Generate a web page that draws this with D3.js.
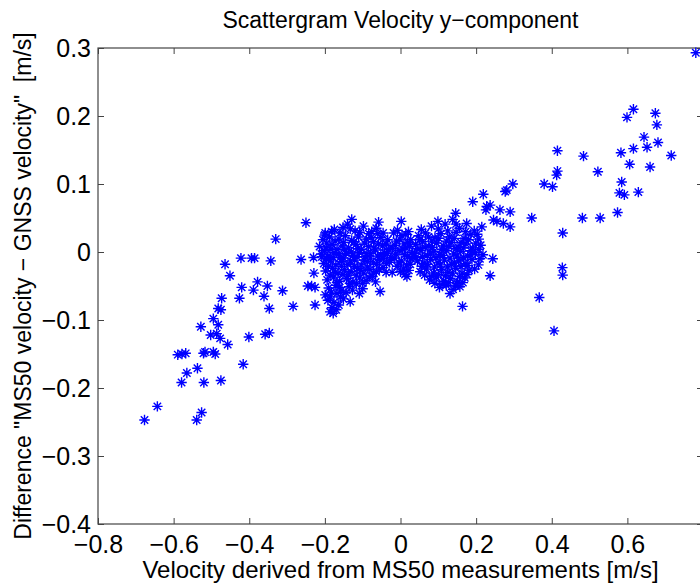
<!DOCTYPE html>
<html lang="en">
<head>
<meta charset="UTF-8">
<title>Scattergram Velocity y-component</title>
<script src="https://d3js.org/d3.v7.min.js"></script>
<style>
  body { margin: 0; background: #fff; }
  text { font-family: "Liberation Sans", Arial, Helvetica, sans-serif; fill: #000; }
  .axis path { display: none; }
  .axis line { stroke: #444; }
  .axis text { font-size: 25px; }
  .star { fill: none; stroke: #0000ff; stroke-width: 1.4; }
</style>
</head>
<body>
<script>

// tick values
var xTicks = [-0.8, -0.6, -0.4, -0.2, 0, 0.2, 0.4, 0.6];
var yTicks = [-0.4, -0.3, -0.2, -0.1, 0, 0.1, 0.2, 0.3];

// sparse points on the left side  [MS50 velocity, difference]
var leftPoints = [
  [-0.250,0.043],[-0.330,0.019],[-0.464,-0.018],[-0.422,-0.009],[-0.394,-0.009],[-0.386,-0.009],
  [-0.343,-0.013],[-0.263,-0.011],[-0.451,-0.035],[-0.378,-0.044],[-0.420,-0.052],[-0.389,-0.056],
  [-0.352,-0.050],[-0.361,-0.065],[-0.312,-0.057],[-0.245,-0.050],[-0.473,-0.068],[-0.426,-0.068],
  [-0.482,-0.083],[-0.475,-0.085],[-0.347,-0.083],[-0.284,-0.080],[-0.495,-0.098],[-0.528,-0.110],
  [-0.482,-0.107],[-0.502,-0.122],[-0.486,-0.120],[-0.477,-0.127],[-0.457,-0.136],[-0.401,-0.125],
  [-0.358,-0.121],[-0.347,-0.119],[-0.589,-0.151],[-0.578,-0.150],[-0.568,-0.149],[-0.521,-0.149],
  [-0.517,-0.147],[-0.495,-0.147],[-0.490,-0.150],[-0.537,-0.171],[-0.565,-0.178],[-0.416,-0.165],
  [-0.579,-0.192],[-0.520,-0.192],[-0.475,-0.189],[-0.643,-0.227],[-0.677,-0.247],[-0.526,-0.236],
  [-0.539,-0.247]
];

// sparse points on the right side
var rightPoints = [
  [0.781,0.293],[0.616,0.210],[0.599,0.198],[0.674,0.204],[0.678,0.187],[0.644,0.169],
  [0.652,0.154],[0.681,0.161],[0.616,0.152],[0.583,0.146],[0.716,0.142],[0.606,0.129],
  [0.660,0.125],[0.415,0.149],[0.484,0.141],[0.522,0.118],[0.415,0.119],[0.413,0.113],
  [0.585,0.103],[0.380,0.100],[0.402,0.096],[0.579,0.087],[0.592,0.084],[0.629,0.088],
  [0.347,0.050],[0.481,0.050],[0.528,0.050],[0.574,0.058],[0.429,0.028],[0.428,-0.023],
  [0.429,-0.034],[0.367,-0.067],[0.406,-0.116]
];

// points around the edge of the central cloud
var edgePoints = [
  [0.297,0.100],[0.277,0.089],[0.281,0.091],[0.219,0.085],[0.191,0.074],[0.228,0.067],
  [0.237,0.069],[0.226,0.062],[0.263,0.062],[0.290,0.059],[0.255,0.045],[0.272,0.042],
  [0.290,0.037],[0.246,0.047],[0.215,0.037],[0.175,0.042],[0.146,0.057],[0.099,0.045],
  [0.244,-0.010],[0.237,-0.035],[0.164,-0.080],[0.149,-0.046],[0.017,-0.036],
  [-0.129,0.048],[-0.058,0.044],[0.002,0.045],[-0.199,0.028],[-0.230,-0.008],[-0.208,-0.007],
  [-0.229,-0.031],[-0.235,-0.050],[-0.226,-0.052],[-0.226,-0.078],[-0.199,-0.063],
  [-0.186,-0.088],[-0.133,-0.073],[-0.054,-0.058]
];

// dense cloud, negative velocities
var cloudLeft = [
  [-0.175,0.033],[-0.152,0.036],[-0.120,0.031],[-0.098,0.038],[-0.076,0.030],[-0.140,0.041],[-0.060,0.027],
  [-0.205,0.018],[-0.188,0.022],[-0.163,0.019],[-0.146,0.024],[-0.129,0.017],[-0.111,0.022],[-0.090,0.019],
  [-0.071,0.015],[-0.052,0.021],[-0.038,0.012],
  [-0.214,0.008],[-0.197,0.006],[-0.181,0.011],[-0.168,0.004],[-0.154,0.009],[-0.137,0.006],[-0.118,0.011],
  [-0.103,0.004],[-0.085,0.008],[-0.066,0.003],[-0.047,0.009],[-0.031,0.004],
  [-0.209,-0.003],[-0.192,-0.006],[-0.176,-0.001],[-0.160,-0.008],[-0.144,-0.002],[-0.126,-0.005],
  [-0.109,-0.001],[-0.094,-0.007],[-0.079,-0.002],[-0.061,-0.006],[-0.043,-0.001],[-0.026,-0.008],
  [-0.203,-0.017],[-0.186,-0.013],[-0.171,-0.019],[-0.157,-0.014],[-0.139,-0.018],[-0.121,-0.012],
  [-0.104,-0.019],[-0.088,-0.014],[-0.072,-0.016],[-0.055,-0.011],[-0.037,-0.017],
  [-0.198,-0.028],[-0.180,-0.024],[-0.165,-0.031],[-0.148,-0.026],[-0.131,-0.029],[-0.113,-0.024],
  [-0.097,-0.031],[-0.081,-0.026],[-0.064,-0.029],[-0.046,-0.023],
  [-0.194,-0.041],[-0.177,-0.037],[-0.161,-0.043],[-0.143,-0.039],[-0.126,-0.044],[-0.108,-0.038],
  [-0.091,-0.042],[-0.074,-0.036],
  [-0.190,-0.053],[-0.171,-0.049],[-0.155,-0.056],[-0.136,-0.051],[-0.117,-0.047],[-0.100,-0.054],
  [-0.185,-0.066],[-0.168,-0.061],[-0.151,-0.069],[-0.176,-0.074],
  [-0.181,-0.082],[-0.163,-0.078],[-0.192,-0.071],[-0.178,-0.090],
  [-0.200,0.025],[-0.182,0.030],[-0.160,0.028],[-0.133,0.034],[-0.108,0.029],[-0.084,0.027],[-0.064,0.035],[-0.046,0.028],
  [-0.195,0.013],[-0.173,0.016],[-0.150,0.014],[-0.123,0.015],[-0.096,0.013],[-0.078,0.021],[-0.058,0.012],[-0.034,0.018],
  [-0.201,0.002],[-0.184,0.004],[-0.163,-0.003],[-0.147,0.003],[-0.130,0.000],[-0.113,0.005],[-0.089,-0.002],
  [-0.070,0.006],[-0.052,-0.004],[-0.035,-0.002],
  [-0.196,-0.010],[-0.178,-0.008],[-0.150,-0.009],[-0.132,-0.013],[-0.115,-0.007],[-0.096,-0.012],[-0.080,-0.009],
  [-0.063,-0.018],[-0.045,-0.010],[-0.029,-0.015],
  [-0.191,-0.021],[-0.173,-0.030],[-0.156,-0.021],[-0.138,-0.034],[-0.122,-0.021],[-0.105,-0.027],[-0.088,-0.022],
  [-0.072,-0.031],[-0.056,-0.025],[-0.038,-0.030],
  [-0.186,-0.034],[-0.168,-0.045],[-0.152,-0.033],[-0.134,-0.046],[-0.117,-0.034],[-0.100,-0.046],[-0.083,-0.037],
  [-0.066,-0.044],
  [-0.183,-0.059],[-0.162,-0.052],[-0.144,-0.060],[-0.127,-0.056],[-0.109,-0.061],[-0.159,-0.066],[-0.170,-0.085]
];

// dense cloud, near zero
var cloudCenter = [
  [-0.018,0.028],[0.004,0.024],[0.021,0.030],[-0.011,0.016],[0.009,0.012],[0.027,0.018],
  [-0.021,0.005],[-0.004,0.002],[0.014,0.006],[0.031,-0.001],[-0.015,-0.009],[0.002,-0.013],
  [0.019,-0.007],[-0.009,-0.021],[0.008,-0.025],[0.026,-0.018],[-0.022,-0.030],[0.012,-0.033],
  [-0.008,0.032],[0.014,0.026],[-0.002,0.019],[0.019,0.014],[-0.014,0.010],[0.006,0.004],
  [0.024,0.008],[-0.012,-0.003],[0.011,-0.004],[0.028,-0.010],[-0.004,-0.016],[0.016,-0.019],
  [0.000,-0.029],[0.022,-0.027]
];

// dense cloud, positive velocities
var cloudRight = [
  [0.082,0.038],[0.118,0.041],[0.156,0.035],[0.195,0.031],[0.138,0.048],
  [0.048,0.024],[0.066,0.028],[0.091,0.021],[0.107,0.027],[0.129,0.022],[0.147,0.029],[0.168,0.020],
  [0.186,0.026],[0.207,0.019],
  [0.040,0.011],[0.058,0.015],[0.075,0.008],[0.096,0.013],[0.113,0.009],[0.134,0.014],[0.152,0.007],
  [0.173,0.012],[0.191,0.006],[0.212,0.010],
  [0.037,-0.002],[0.054,0.002],[0.071,-0.005],[0.088,0.001],[0.104,-0.004],[0.122,0.002],[0.141,-0.003],
  [0.159,0.001],[0.178,-0.006],[0.198,-0.001],[0.218,-0.004],
  [0.045,-0.013],[0.062,-0.017],[0.080,-0.011],[0.099,-0.016],[0.116,-0.012],[0.135,-0.018],
  [0.154,-0.013],[0.171,-0.017],[0.189,-0.011],[0.206,-0.019],
  [0.052,-0.029],[0.069,-0.025],[0.087,-0.031],[0.108,-0.026],[0.126,-0.030],[0.146,-0.024],
  [0.163,-0.031],[0.181,-0.027],
  [0.077,-0.041],[0.095,-0.037],[0.114,-0.043],[0.132,-0.039],[0.151,-0.044],[0.170,-0.038],
  [0.103,-0.052],[0.121,-0.049],[0.139,-0.055],[0.157,-0.051],[0.131,-0.061],
  [0.055,0.033],[0.074,0.022],[0.100,0.034],[0.125,0.031],[0.147,0.041],[0.172,0.030],[0.203,0.026],
  [0.050,0.018],[0.083,0.016],[0.101,0.020],[0.121,0.016],[0.142,0.020],[0.160,0.014],[0.180,0.018],[0.199,0.013],
  [0.046,0.005],[0.065,0.007],[0.084,0.007],[0.109,0.004],[0.128,0.008],[0.147,0.005],[0.166,0.006],
  [0.185,0.002],[0.207,0.004],
  [0.041,-0.008],[0.058,-0.007],[0.079,-0.003],[0.094,-0.008],[0.113,-0.005],[0.131,-0.009],[0.150,-0.006],
  [0.167,-0.008],[0.186,-0.004],[0.210,-0.010],
  [0.056,-0.021],[0.071,-0.018],[0.090,-0.022],[0.106,-0.019],[0.124,-0.022],[0.143,-0.016],[0.160,-0.021],
  [0.178,-0.020],[0.196,-0.025],
  [0.064,-0.034],[0.083,-0.036],[0.100,-0.033],[0.119,-0.035],[0.138,-0.031],[0.156,-0.036],[0.176,-0.033],
  [0.091,-0.046],[0.110,-0.048],[0.127,-0.045],[0.146,-0.050],[0.165,-0.045]
];

var data = leftPoints.concat(cloudLeft, cloudCenter, cloudRight, edgePoints, rightPoints);

// set the dimensions and margins of the graph
var margin = {top: 48, right: -3, bottom: 59, left: 98},
    width = 700 - margin.left - margin.right,
    height = 583 - margin.top - margin.bottom;

var x = d3.scaleLinear().domain([-0.8, 0.8]).range([0, width]);
var y = d3.scaleLinear().domain([-0.4, 0.3]).range([height, 0]);

var fmt = function(d) { return d === 0 ? "0" : d3.format(".1f")(d); };

var svg = d3.select("body").append("svg")
    .attr("width", 700)
    .attr("height", 583)
  .append("g")
    .attr("transform", "translate(" + margin.left + "," + margin.top + ")");

// matlab style ticks, pointing inwards on all four sides
svg.append("g")
    .attr("class", "axis")
    .attr("transform", "translate(0," + height + ")")
    .call(d3.axisBottom(x).tickValues(xTicks).tickSizeInner(-6).tickSizeOuter(0).tickPadding(11).tickFormat(fmt));

svg.append("g")
    .attr("class", "axis")
    .call(d3.axisTop(x).tickValues(xTicks).tickSizeInner(-6).tickSizeOuter(0).tickFormat(""));

svg.append("g")
    .attr("class", "axis")
    .call(d3.axisLeft(y).tickValues(yTicks).tickSizeInner(-6).tickSizeOuter(0).tickPadding(7).tickFormat(fmt));

svg.append("g")
    .attr("class", "axis")
    .attr("transform", "translate(" + width + ",0)")
    .call(d3.axisRight(y).tickValues(yTicks).tickSizeInner(-6).tickSizeOuter(0).tickFormat(""));

// axes box
svg.append("rect")
    .attr("width", width)
    .attr("height", height)
    .attr("fill", "none")
    .attr("stroke", "#444")
    .attr("stroke-width", 1.2);

// asterisk marker ( + and x )
var r = 5.2, k = 3.7;
var star = "M" + (-r) + ",0L" + r + ",0M0," + (-r) + "L0," + r +
           "M" + (-k) + "," + (-k) + "L" + k + "," + k + "M" + (-k) + "," + k + "L" + k + "," + (-k);

svg.append("g")
  .selectAll("path")
  .data(data)
  .enter()
  .append("path")
    .attr("class", "star")
    .attr("transform", function(d) { return "translate(" + x(d[0]) + "," + y(d[1]) + ")"; })
    .attr("d", star);

// title and labels
svg.append("text")
    .attr("x", x(0))
    .attr("y", -20)
    .attr("text-anchor", "middle")
    .style("font-size", "23px")
    .text("Scattergram Velocity y\u2212component");

svg.append("text")
    .attr("x", x(0))
    .attr("y", height + 54)
    .attr("text-anchor", "middle")
    .style("font-size", "24px")
    .text("Velocity derived from MS50 measurements [m/s]");

svg.append("text")
    .attr("transform", "translate(" + (-67) + "," + (height / 2) + ") rotate(-90)")
    .attr("text-anchor", "middle")
    .style("font-size", "23px")
    .style("white-space", "pre")
    .text("Difference \"MS50 velocity \u2212 GNSS velocity\"  [m/s]");

</script>
</body>
</html>
